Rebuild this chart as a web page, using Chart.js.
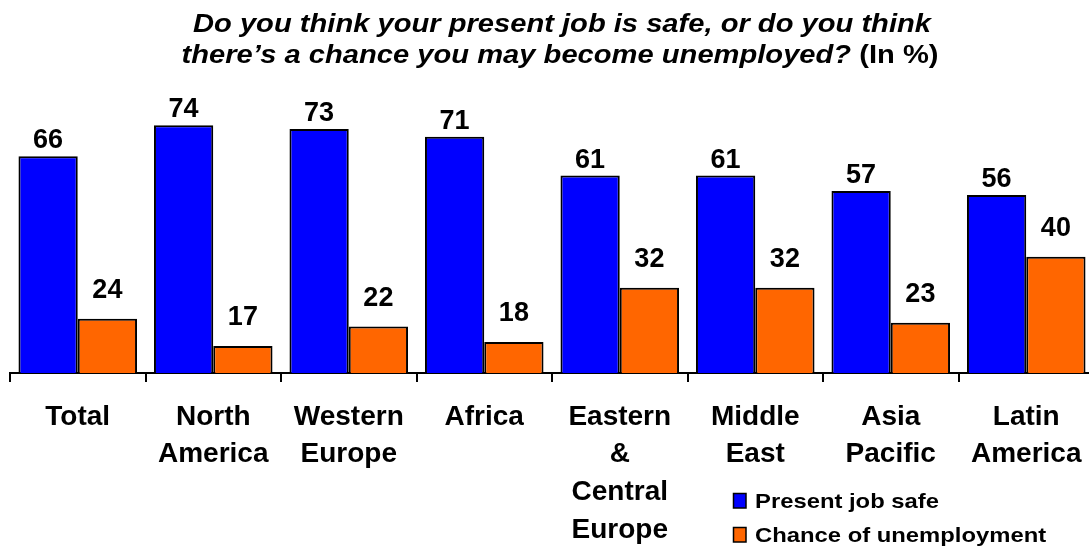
<!DOCTYPE html>
<html>
<head>
<meta charset="utf-8">
<script src="https://cdn.jsdelivr.net/npm/chart.js@4/dist/chart.umd.min.js"></script>
<style>
html,body{margin:0;padding:0;overflow:hidden;background:#fff;}
#wrap{position:relative;width:1100px;height:547px;}
</style>
</head>
<body>
<div id="wrap"><canvas id="c"></canvas></div>
<script>
// ---- data ----
const categories = [["Total"],["North","America"],["Western","Europe"],["Africa"],["Eastern","&","Central","Europe"],["Middle","East"],["Asia","Pacific"],["Latin","America"]];
const seriesNames = ["Present job safe","Chance of unemployment"];
const presentJobSafe = [66,74,73,71,61,61,57,56];
const chanceOfUnemployment = [24,17,22,18,32,32,23,40];
const titleLine1 = "Do you think your present job is safe, or do you think";
const titleLine2a = "there\u2019s a chance you may become unemployed? ";
const titleLine2b = "(In %)";

const FONT = '"Liberation Sans", Arial, sans-serif';
const colors = ["#0000FF","#FF6600"];
const labelOffsets = [8, 21];

const valueLabels = {
  id:'valueLabels',
  afterDatasetsDraw(chart){
    const ctx = chart.ctx;
    ctx.save();
    ctx.font = 'bold 27px ' + FONT;
    ctx.fillStyle = '#000';
    ctx.textAlign = 'center';
    ctx.textBaseline = 'alphabetic';
    chart.data.datasets.forEach((ds, i) => {
      chart.getDatasetMeta(i).data.forEach((el, j) => {
        ctx.fillText(String(ds.data[j]), el.x, el.y - labelOffsets[i]);
      });
    });
    ctx.restore();
  }
};

const titleAndLegend = {
  id:'titleAndLegend',
  afterDraw(chart){
    const ctx = chart.ctx;
    ctx.save();
    ctx.fillStyle = '#000';
    ctx.textBaseline = 'alphabetic';
    ctx.textAlign = 'left';
    // title
    const fi = 'italic bold 25px ' + FONT;
    const fb = 'bold 25px ' + FONT;
    ctx.font = fi;
    const w1 = ctx.measureText(titleLine1).width;
    const sx = 738 / w1;
    ctx.save();
    ctx.translate(562, 32);
    ctx.scale(sx, 1);
    ctx.fillText(titleLine1, -w1/2, 0);
    ctx.restore();
    ctx.font = fi;
    const wa = ctx.measureText(titleLine2a).width;
    ctx.font = fb;
    const wb = ctx.measureText(titleLine2b).width;
    ctx.save();
    ctx.translate(560, 63);
    ctx.scale(sx, 1);
    const start = -(wa + wb)/2;
    ctx.font = fi;
    ctx.fillText(titleLine2a, start, 0);
    ctx.font = fb;
    ctx.fillText(titleLine2b, start + wa, 0);
    ctx.restore();
    // legend
    const lf = 'bold 21px ' + FONT;
    ctx.font = lf;
    const lw = ctx.measureText(seriesNames[0]).width;
    const lsx = 184 / lw;
    const rows = [508, 542];
    seriesNames.forEach((name, i) => {
      const by = rows[i];
      ctx.fillStyle = colors[i];
      ctx.fillRect(733.5, by - 14.5, 12.5, 14.5);
      ctx.strokeStyle = '#000';
      ctx.lineWidth = 1.5;
      ctx.strokeRect(733.5, by - 14.5, 12.5, 14.5);
      ctx.fillStyle = '#000';
      ctx.save();
      ctx.translate(755, by);
      ctx.scale(lsx, 1);
      ctx.font = lf;
      ctx.fillText(name, 0, 0);
      ctx.restore();
    });
    ctx.restore();
  }
};

new Chart(document.getElementById('c'), {
  type:'bar',
  data:{
    labels: categories,
    datasets:[
      {label:seriesNames[0], data:presentJobSafe, backgroundColor:colors[0], borderColor:'#000', borderWidth:2, base:10},
      {label:seriesNames[1], data:chanceOfUnemployment, backgroundColor:colors[1], borderColor:'#000', borderWidth:2, base:10}
    ]
  },
  options:{
    responsive:true,
    maintainAspectRatio:false,
    animation:false,
    events:[],
    layout:{padding:{left:10,right:6,top:102,bottom:0}},
    datasets:{bar:{categoryPercentage:0.875, barPercentage:1}},
    plugins:{legend:{display:false}, title:{display:false}, tooltip:{enabled:false}},
    scales:{
      y:{display:false, min:10, max:80},
      x:{
        afterFit(scale){ scale.height = 174; },
        border:{display:true, color:'#000', width:2},
        grid:{display:true, offset:true, drawOnChartArea:false, drawTicks:true, tickLength:9, color:'#000', lineWidth:2},
        ticks:{color:'#000', padding:16, maxRotation:0, autoSkip:false, font:{family:FONT, size:28, weight:'bold', lineHeight:1.35}}
      }
    }
  },
  plugins:[valueLabels, titleAndLegend]
});
</script>
</body>
</html>
